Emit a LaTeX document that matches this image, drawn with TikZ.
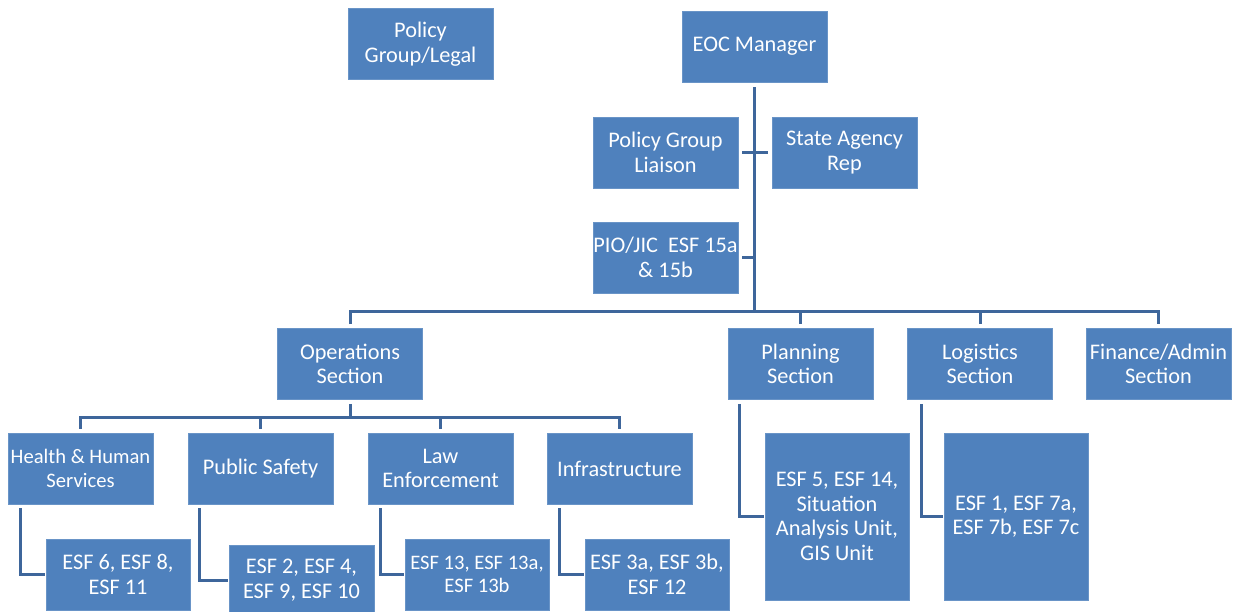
\documentclass[tikz,border=0pt]{standalone}
\usepackage{fontspec}
\setmainfont{Carlito}
\definecolor{boxblue}{RGB}{79,129,189}
\definecolor{lineblue}{RGB}{62,102,155}
\begin{document}
\begin{tikzpicture}[x=1pt,y=-1pt,
  box/.style={fill=boxblue,draw=boxblue!85!white,line width=0.6pt,text=white,align=center,inner sep=0pt,
    minimum width=145pt,minimum height=71pt,font=\fontsize{22.3}{24.5}\selectfont},
  small/.style={font=\fontsize{20.6}{23.5}\selectfont},
  conn/.style={draw=lineblue,line width=3pt}]
\useasboundingbox (0,0) rectangle (1242,611);
% top
\node[box] (legal) at (420.5,44) {Policy\\Group/Legal};
\node[box] (eoc) at (754.5,46.5) {\raisebox{-2pt}{EOC Manager}};
\node[box] (pgl) at (665.5,152.5) {Policy Group\\Liaison};
\node[box] (sar) at (844.5,152.5) {State Agency\\Rep};
\node[box] (pio) at (665.5,257.5) {PIO/JIC\ \ ESF 15a\\\& 15b};
% sections
\node[box] (ops) at (350,364) {Operations\\Section};
\node[box] (plan) at (800.5,364) {Planning\\Section};
\node[box] (log) at (980,364) {Logistics\\Section};
\node[box] (fin) at (1158.5,364) {Finance/Admin\\Section};
% ops branches
\node[box,small] (hhs) at (80.5,468.5) {Health \& Human\\Services};
\node[box] (ps) at (260.5,468.5) {Public Safety};
\node[box] (le) at (440.5,468.5) {Law\\Enforcement};
\node[box] (inf) at (619.5,468.5) {Infrastructure};
% ESF boxes
\node[box,minimum width=144pt] (e6) at (118,574.5) {ESF 6, ESF 8,\\ESF 11};
\node[box,minimum height=70pt] (e2) at (301.5,580) {ESF 2, ESF 4,\\ESF 9, ESF 10};
\node[box,small,minimum width=144pt] (e13) at (477,574.5) {ESF 13, ESF 13a,\\ESF 13b};
\node[box,minimum width=144pt] (e3) at (657,574.5) {ESF 3a, ESF 3b,\\ESF 12};
\node[box,minimum width=144pt,minimum height=167pt] (e5) at (837,516.5) {ESF 5, ESF 14,\\Situation\\Analysis Unit,\\GIS Unit};
\node[box,minimum width=144pt,minimum height=167pt] (e1) at (1016,516.5) {ESF 1, ESF 7a,\\ESF 7b, ESF 7c};
% buses
\coordinate (busA) at (754.5,311);
\coordinate (busB) at (350,417);
% connectors
\draw[conn] ([yshift=-5pt]eoc.south) -- (busA);
\draw[conn] ([xshift=4pt]pgl.east) -- ([xshift=-4pt]sar.west);
\draw[conn] ([xshift=4pt]pio.east) -- (pio.east -| busA);
\draw[conn] ([yshift=4pt]ops.north) -- (ops.north |- busA) -- (fin.north |- busA) -- ([yshift=4pt]fin.north);
\draw[conn] (plan.north |- busA) -- ([yshift=4pt]plan.north);
\draw[conn] (log.north |- busA) -- ([yshift=4pt]log.north);
\draw[conn] ([yshift=-4pt]ops.south) -- (busB);
\draw[conn] ([yshift=4pt]hhs.north) -- (hhs.north |- busB) -- (inf.north |- busB) -- ([yshift=4pt]inf.north);
\draw[conn] (ps.north |- busB) -- ([yshift=4pt]ps.north);
\draw[conn] (le.north |- busB) -- ([yshift=4pt]le.north);
% elbows
\draw[conn] ([xshift=13pt,yshift=-4pt]hhs.south west) |- ([xshift=-1pt]e6.west);
\draw[conn] ([xshift=12pt,yshift=-4pt]ps.south west) |- ([xshift=-1pt]e2.west);
\draw[conn] ([xshift=13pt,yshift=-4pt]le.south west) |- ([xshift=-1pt]e13.west);
\draw[conn] ([xshift=13pt,yshift=-4pt]inf.south west) |- ([xshift=-1pt]e3.west);
\draw[conn] ([xshift=12pt,yshift=-4pt]plan.south west) |- ([xshift=-1pt]e5.west);
\draw[conn] ([xshift=14pt,yshift=-4pt]log.south west) |- ([xshift=-1pt]e1.west);
\end{tikzpicture}
\end{document}
